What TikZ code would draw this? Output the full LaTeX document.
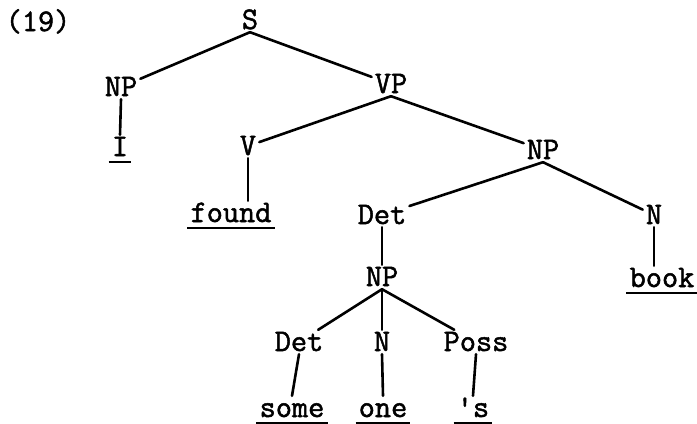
\documentclass[tikz,border=0pt]{standalone}
\usepackage{fontspec}
\setmonofont{Latin Modern Mono}[FakeBold=1.6]
\begin{document}
\begin{tikzpicture}[x=1bp,y=-1bp,
  every node/.style={font=\fontsize{31.5}{33}\selectfont\ttfamily,
    inner sep=3bp, text height=18bp, text depth=0bp},
  link/.style={line width=2.6bp, line cap=round},
  uline/.style={line width=2.8bp}]
\useasboundingbox (0,0) rectangle (697,423);

% example number
\node (num) at (38,22) {(19)};

% categories
\node (S)    at (250,20)  {S};
\node (np1)  at (121,87)  {NP};
\node (vp)   at (391,84)  {VP};
\node (v)    at (248,146) {V};
\node (np2)  at (543,150) {NP};
\node (det1) at (382,215) {Det};
\node (n1)   at (654,215) {N};
\node (np3)  at (382,277) {NP};
\node (det2) at (299,342) {Det};
\node (n2)   at (382,342) {N};
\node (poss) at (476,342) {Poss};

% terminal words
\node (wI)    at (120,147) {I};
\node (found) at (231,213) {found};
\node (book)  at (662,278) {book};
\node (some)  at (292,408) {some};
\node (one)   at (383,408) {one};
\node (ps)    at (473,408) {\textquotesingle s};

% branches
\draw[link] (S.south) -- (np1);
\draw[link] (S.south) -- (vp);
\draw[link] (np1.south) -- (wI.north);
\draw[link] (vp.south) -- (v);
\draw[link] (vp.south) -- (np2);
\draw[link] (v.south) -- (v.south |- found.north);
\draw[link] (np2.south) -- (det1);
\draw[link] (np2.south) -- (n1);
\draw[link] (det1.south) -- (np3.north);
\draw[link] (n1.south) -- (n1.south |- book.north);
\draw[link] (np3.south) -- (det2);
\draw[link] (np3.south) -- (n2.north);
\draw[link] (np3.south) -- (poss);
\draw[link] (det2.south) -- (some.north);
\draw[link] (n2.south) -- (one.north);
\draw[link] (poss.south) -- (ps.north);

% underlines of the words
\foreach \w in {wI,found,book,some,one,ps}
  \draw[uline] ([yshift=-6bp]\w.base west) -- ([yshift=-6bp]\w.base east);
\end{tikzpicture}
\end{document}
